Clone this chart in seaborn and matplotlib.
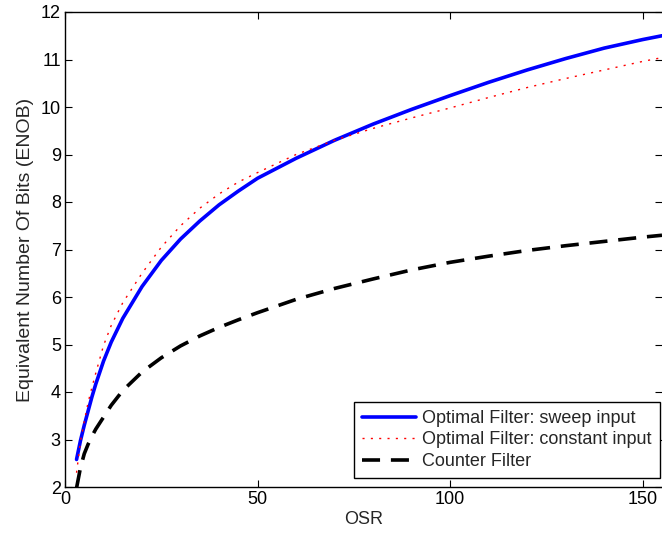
import numpy as np
import pandas as pd
import seaborn as sns
import matplotlib
matplotlib.use("Agg")
import matplotlib.pyplot as plt

sns.set_style("ticks")
plt.rcParams['font.family'] = ['Liberation Sans', 'DejaVu Sans']
plt.rcParams['xtick.direction'] = 'in'
plt.rcParams['ytick.direction'] = 'in'

## values
osr = [3, 4, 5, 6, 7, 8, 10, 12, 15, 20, 25, 30, 35, 40, 45, 50,
       60, 70, 80, 90, 100, 110, 120, 130, 140, 150, 155]
enob_sweep = [2.58, 2.97, 3.30, 3.60, 3.90, 4.17, 4.65, 5.05, 5.55, 6.22, 6.77, 7.22,
              7.60, 7.94, 8.23, 8.50, 8.92, 9.30, 9.64, 9.95, 10.24, 10.52, 10.78,
              11.02, 11.24, 11.42, 11.50]
enob_const = [2.30, 2.95, 3.38, 3.78, 4.10, 4.40, 4.98, 5.40, 5.88, 6.50, 7.05, 7.50,
              7.87, 8.17, 8.42, 8.62, 9.00, 9.30, 9.55, 9.77, 9.98, 10.20, 10.41,
              10.60, 10.78, 10.96, 11.04]
enob_counter = [1.98, 2.40, 2.70, 2.90, 3.07, 3.22, 3.47, 3.72, 4.03, 4.42, 4.72, 4.97,
                5.18, 5.36, 5.52, 5.67, 5.95, 6.18, 6.38, 6.57, 6.73, 6.86, 6.98,
                7.08, 7.17, 7.26, 7.30]
labels = ['Optimal Filter: sweep input', 'Optimal Filter: constant input', 'Counter Filter']

tb = pd.DataFrame({'OSR': osr, 'sweep': enob_sweep, 'const': enob_const, 'counter': enob_counter})

fig = plt.figure(figsize=(6.62, 5.38), dpi=100)
ax = fig.add_axes([65 / 662, 51 / 538, 597 / 662, 475 / 538])

sns.lineplot(data=tb, x='OSR', y='sweep', ax=ax, color='#0000ff', lw=2.6, label=labels[0])
sns.lineplot(data=tb, x='OSR', y='const', ax=ax, color='#ff0000', lw=1.0, label=labels[1])
sns.lineplot(data=tb, x='OSR', y='counter', ax=ax, color='black', lw=2.6, label=labels[2])
ax.lines[1].set_dashes((1.5, 4.5))
ax.lines[2].set_dashes((5, 3))

ax.set_xlim(0, 155)
ax.set_ylim(2, 12)
ax.set_xticks([0, 50, 100, 150])
ax.set_yticks(range(2, 13))
ax.tick_params(labelsize=13, length=5, width=0.8, top=True, right=True, colors='black', pad=3)
ax.set_xlabel('OSR', fontsize=13, labelpad=2)
ax.set_ylabel('Equivalent Number Of Bits (ENOB)', fontsize=14, labelpad=5)
for s in ax.spines.values():
    s.set_color('black')
    s.set_linewidth(1.0)
ax.spines['right'].set_visible(False)

leg = ax.legend(loc='lower right', bbox_to_anchor=(0.9966, 0.019), fontsize=13,
                handlelength=3, handletextpad=0.35, borderpad=0.45, labelspacing=0.25,
                borderaxespad=0, fancybox=False, framealpha=1)
leg.get_frame().set_edgecolor('black')
leg.get_frame().set_linewidth(1.0)
leg.get_lines()[1].set_dashes((1.5, 4.5))
leg.get_lines()[2].set_dashes((5, 3))

plt.savefig('out.png', dpi=100)
